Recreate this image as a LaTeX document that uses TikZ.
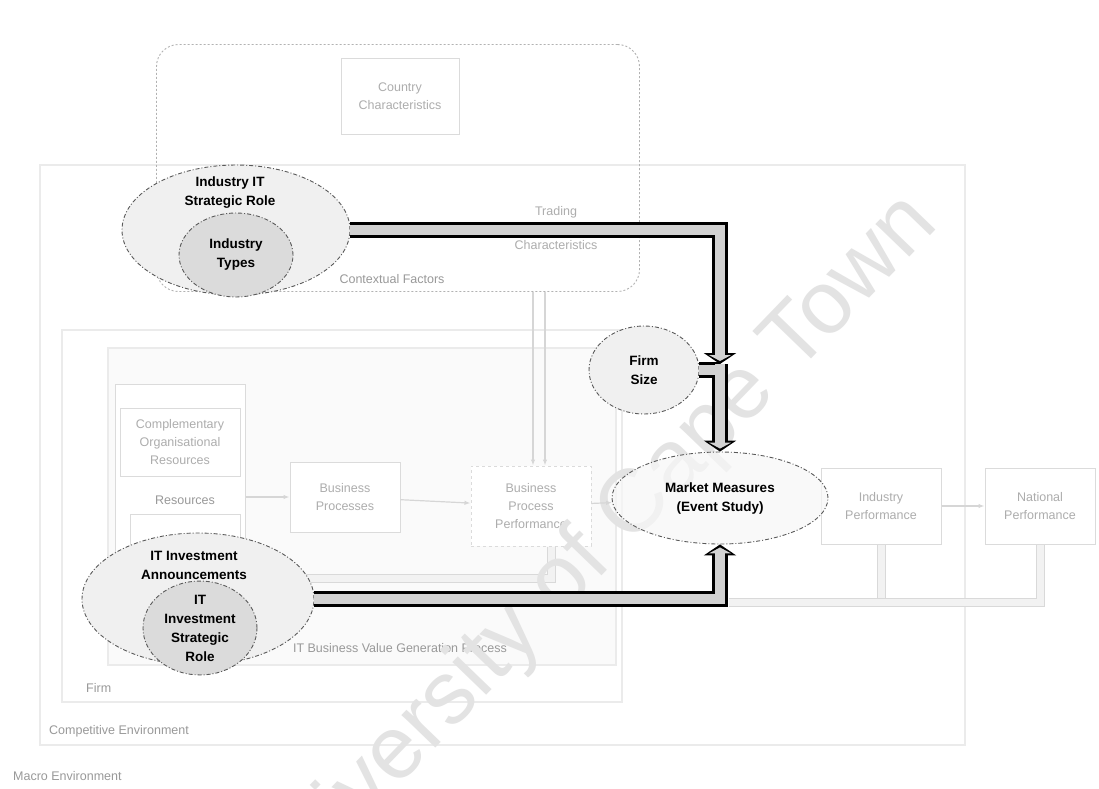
\documentclass[tikz,border=0pt]{standalone}
\usepackage{fontspec}
\setmainfont{Liberation Sans}
\usetikzlibrary{arrows.meta,positioning,shapes.geometric}
\newcommand{\focusfont}{\fontsize{13.5}{19}\selectfont\bfseries}
\newcommand{\fadefont}{\fontsize{12.5}{18}\selectfont}
\tikzset{
  envbox/.style={draw=black!8,line width=1.2pt},
  envlabel/.style={font=\fadefont,text=black!40,inner sep=1pt},
  fadebox/.style={draw=black!14,line width=1pt,fill=white,align=center,
    font=\fadefont,text=black!32,inner sep=2pt},
  ctxbox/.style={draw=black!30,dash pattern=on 2pt off 2pt,rounded corners=22pt,
    line width=0.9pt},
  fadearrow/.style={-{Latex[length=6pt]},draw=black!16,line width=1.2pt},
  fadedouble/.style={draw=black!15,line width=1pt,double=black!5,double distance=7pt},
  focusell/.style={ellipse,draw=black!65,dash pattern=on 4pt off 2pt on 1pt off 2pt,
    line width=0.9pt,inner sep=0pt,align=center,font=\focusfont},
  % hollow fat arrows: black body first, grey core on top
  fatbody/.style={draw=black,line width=16pt,line join=miter},
  fatcore/.style={draw=gray!35,line width=10pt,line join=miter},
  fathead/.style={-{Triangle[length=11pt,width=32pt]}},
  fatcorehead/.style={-{Triangle[length=6pt,width=22pt]},shorten >=3pt},
  watermark/.style={font=\fontsize{89}{89}\selectfont,text=black!11}
}
\begin{document}
\begin{tikzpicture}[x=1pt,y=-1pt]
  \useasboundingbox (0,0) rectangle (1099,788);
  \fill[white] (0,0) rectangle (1099,788);
  % environments
  \draw[envbox] (40,165) rectangle (965,745);
  \draw[envbox] (62,330) rectangle (622,702);
  \draw[envbox,fill=black!2] (108,348) rectangle (616,665);
  \node[envlabel,anchor=west] (macrolbl) at (12,776) {Macro Environment};
  \node[envlabel,anchor=west] (complbl) at (48,731) {Competitive Environment};
  \node[envlabel,anchor=west] (firmlbl) at (85,688) {Firm};
  \node[envlabel,anchor=east] (bvgplbl) at (508,648) {IT Business Value Generation Process};

  % contextual factors
  \node[ctxbox,minimum width=483,minimum height=247] (ctx) at (398,168) {};
  \node[envlabel] (ctxlbl) at (392,279) {Contextual Factors};
  \node[fadebox,minimum width=118,minimum height=76] (country) at (400,96)
    {Country\\Characteristics};
  \node[fadebox,draw=none,fill=none] (trading) at (556,228)
    {Trading\\[16pt]Characteristics};
  \node[fadebox,minimum width=130,minimum height=95] (indchar) at (232,232) {};

  % firm process
  \node[fadebox,minimum width=130,minimum height=256] (resgrp) at (180,512) {};
  \node[fadebox,minimum width=120,minimum height=68] (compl) at (180,442)
    {Complementary\\Organisational\\Resources};
  \node[envlabel] (reslbl) at (185,500) {Resources};
  \node[fadebox,minimum width=110,minimum height=46] (itres) at (185,537) {};
  \node[fadebox,minimum width=110,minimum height=70] (busproc) at (345,497)
    {Business\\Processes};
  \node[fadebox,dashed,minimum width=120,minimum height=80] (bpp) at (531,506)
    {Business\\Process\\Performance};
  \node[fadebox,minimum width=120,minimum height=76] (indperf) at (881,506)
    {Industry\\Performance};
  \node[fadebox,minimum width=110,minimum height=76] (natperf) at (1040,506)
    {National\\Performance};
  \coordinate (resin) at (245,578);

  \draw[fadearrow] (resgrp.east |- busproc) -- (busproc.west);
  \draw[fadearrow] (busproc) -- (bpp);
  \draw[fadearrow] (indperf) -- (natperf);
  \draw[fadearrow] ([xshift=2pt]bpp.north |- ctx.south) -- ([xshift=2pt]bpp.north);
  \draw[fadearrow] ([xshift=14pt]bpp.north |- ctx.south) -- ([xshift=14pt]bpp.north);
  \draw[fadedouble] ([xshift=20pt]bpp.south) |- (resin);

  % watermark
  \begin{scope}
    \clip (0,0) rectangle (1099,788);
    \node[watermark,rotate=46] (wmark) at (590,555) {University of Cape Town};
  \end{scope}

  % focus of the study
  \node[focusell,fill=gray!6,fill opacity=0.7,text opacity=1,
    minimum width=216,minimum height=92] (mkt) at (720,498) {};
  \node[font=\focusfont,align=center] (mkttxt) at (mkt) {Market Measures\\(Event Study)};
  \draw[fadearrow] (bpp) -- (mkt);
  \coordinate (fadefork) at (729,602);
  \draw[fadedouble] (fadefork) -| (indperf.south);
  \draw[fadedouble] (fadefork) -| (natperf.south);

  \node[focusell,fill=gray!12,minimum width=228,minimum height=130] (indrole) at (236,230) {};
  \node[font=\focusfont,align=center] (indroletxt) at (230,193) {Industry IT\\Strategic Role};
  \node[focusell,fill=gray!28,minimum width=114,minimum height=84] (indtype) at (236,255)
    {Industry\\Types};

  \node[focusell,fill=gray!12,minimum width=232,minimum height=132] (itann) at (198,599) {};
  \node[font=\focusfont,align=center] (itanntxt) at (194,565) {IT Investment\\Announcements};
  \node[focusell,fill=gray!28,minimum width=114,minimum height=84] (itrole) at (200,628)
    {IT\\Investment\\Strategic\\Role};

  \node[focusell,fill=gray!12,minimum width=110,minimum height=88] (firm) at (644,370)
    {Firm\\Size};

  % thick links
  \coordinate (join) at (720,364);
  \draw[fatbody] (firm.east) -- (firm.east -| join);
  \draw[fatbody,fathead] (indrole.east) -| (join);
  \draw[fatbody,fathead] (join) -- (mkt.north);
  \draw[fatbody,fathead] (itann.east) -| (mkt.south);
  \draw[fatcore] (firm.east) -- ([xshift=-3pt]firm.east -| join);
  \draw[fatcore,fatcorehead] (indrole.east) -| (join);
  \draw[fatcore,fatcorehead] (join) -- (mkt.north);
  \draw[fatcore,fatcorehead] (itann.east) -| (mkt.south);
\end{tikzpicture}
\end{document}
